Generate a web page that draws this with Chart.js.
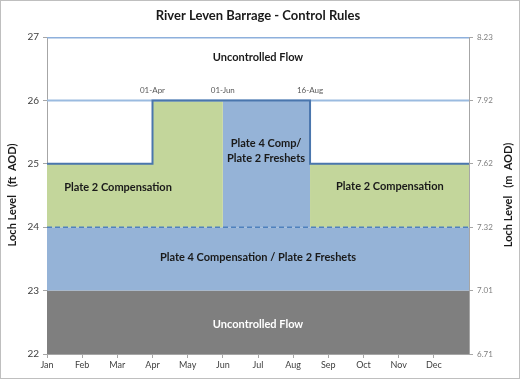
<!DOCTYPE html>
<html><head><meta charset="utf-8">
<script src="https://cdn.jsdelivr.net/npm/chart.js@4"></script>
<style>html,body{margin:0;padding:0;background:#fff}#wrap{width:520px;height:379px;position:relative}</style>
</head><body><div id="wrap"><canvas id="c" width="520" height="379"></canvas></div>
<script>
// x in months from 1 Jan (0 = 1 Jan, 12 = end of Dec)
const monthNames = ["Jan","Feb","Mar","Apr","May","Jun","Jul","Aug","Sep","Oct","Nov","Dec"];
const monthStarts = [0,1,2,3,4,5,6,7,8,9,10,11];
const yearEnd = 12;
const apr1 = 3, jun1 = 5, aug16 = 7.48;
const ftTicks = [22,23,24,25,26,27];
const mTickLabels = ["6.71","7.01","7.32","7.62","7.92","8.23"];
// Series (ft AOD)
const uncontrolledLow = [23,23];            // at [0, yearEnd]
const plate4Band = [24,24];                 // at [0, yearEnd]
const greenX = [0,apr1,apr1,jun1,jun1,aug16,aug16,yearEnd];
const greenY = [25,25,26,26,24,24,25,25];
const blueX = [jun1,aug16];
const blueY = [26,26];
const ruleX = [0,apr1,apr1,aug16,aug16,yearEnd];
const ruleY = [25,25,26,26,25,25];
const level26 = [26,26];
const level27 = [27,27];
const dateMarks = [["01-Apr",apr1],["01-Jun",jun1],["16-Aug",aug16]];
const regionLabels = [
  {t:["Uncontrolled Flow"], x:6.0, y:26.68, c:"#1a1a1a"},
  {t:["Plate 2 Compensation"], x:2.02, y:24.62, c:"#1a1a1a"},
  {t:["Plate 4 Comp/","Plate 2 Freshets"], x:6.23, y:25.21, c:"#1a1a1a"},
  {t:["Plate 2 Compensation"], x:9.75, y:24.64, c:"#1a1a1a"},
  {t:["Plate 4 Compensation / Plate 2 Freshets"], x:6.0, y:23.53, c:"#1a1a1a"},
  {t:["Uncontrolled Flow"], x:6.0, y:22.47, c:"#ffffff"}
];
const pts = (xs, ys) => xs.map((x,i)=>({x:x,y:ys[i]}));
const ends = ys => pts([0,yearEnd], ys);

const FONT = "Lato, 'Open Sans', sans-serif";

const textPlugin = {
  id:'texts',
  beforeDraw(chart){
    const ctx = chart.ctx;
    ctx.save();
    ctx.fillStyle = '#fff';
    ctx.fillRect(0,0,chart.width,chart.height);
    ctx.strokeStyle = '#bfbfbf';
    ctx.lineWidth = 1;
    ctx.strokeRect(0.5,0.5,chart.width-1,chart.height-1);
    ctx.restore();
  },
  afterDraw(chart){
    const ctx = chart.ctx, xs = chart.scales.x, ys = chart.scales.y;
    ctx.save();
    ctx.textAlign = 'center'; ctx.textBaseline = 'middle';
    ctx.fillStyle = '#1a1a1a';
    ctx.font = "bold 13px " + FONT;
    ctx.fillText("River Leven Barrage - Control Rules", 258, 16);
    ctx.font = "bold 11px " + FONT;
    ctx.save(); ctx.translate(12, 195); ctx.rotate(-Math.PI/2);
    ctx.fillText("Loch Level   (ft  AOD)", 0, 0); ctx.restore();
    ctx.save(); ctx.translate(508, 195); ctx.rotate(-Math.PI/2);
    ctx.fillText("Loch Level   (m  AOD)", 0, 0); ctx.restore();
    ctx.font = "bold 11px " + FONT;
    regionLabels.forEach(l=>{
      ctx.fillStyle = l.c;
      const cx = xs.getPixelForValue(l.x), cy = ys.getPixelForValue(l.y);
      const n = l.t.length;
      l.t.forEach((s,i)=>ctx.fillText(s, cx, cy + (i-(n-1)/2)*15));
    });
    ctx.font = "8px " + FONT;
    ctx.fillStyle = '#595959';
    dateMarks.forEach(d=>{
      ctx.fillText(d[0], xs.getPixelForValue(d[1]), ys.getPixelForValue(26)-10);
    });
    ctx.restore();
  }
};

new Chart(document.getElementById('c'), {
  type:'line',
  data:{datasets:[
    {data:ends(uncontrolledLow), fill:'start', backgroundColor:'#7f7f7f', borderWidth:0, pointRadius:0, order:10},
    {data:ends(plate4Band), fill:'-1', backgroundColor:'#95b3d7', borderWidth:0, pointRadius:0, order:9},
    {data:pts(greenX,greenY), fill:{value:24}, backgroundColor:'#c3d69b', borderWidth:0, pointRadius:0, order:8},
    {data:pts(blueX,blueY), fill:{value:24}, backgroundColor:'#95b3d7', borderWidth:0, pointRadius:0, order:7},
    {data:ends(level26), fill:false, borderColor:'#9bbbe0', borderWidth:2, pointRadius:0, order:6},
    {data:ends(level27), fill:false, borderColor:'#8eb0dc', borderWidth:3, pointRadius:0, order:5},
    {data:ends(plate4Band), fill:false, borderColor:'#4f81bd', borderWidth:1.5, borderDash:[5,3], pointRadius:0, order:4},
    {data:pts(ruleX,ruleY), fill:false, borderColor:'#4a76ad', borderWidth:2, pointRadius:0, order:3}
  ]},
  options:{
    responsive:false, animation:false, devicePixelRatio:1,
    layout:{padding:{left:4,right:4,top:37,bottom:4}},
    plugins:{legend:{display:false}, tooltip:{enabled:false}, title:{display:false}},
    elements:{line:{tension:0}},
    scales:{
      x:{type:'linear', min:0, max:yearEnd,
        afterBuildTicks(s){ s.ticks = monthStarts.map(v=>({value:v})); },
        ticks:{callback:(v)=>monthNames[monthStarts.indexOf(v)], color:'#404040', font:{size:9, family:FONT}, maxRotation:0, autoSkip:false, padding:2},
        grid:{drawOnChartArea:false, drawTicks:true, tickLength:4, color:'#a6a6a6'},
        border:{color:'#a6a6a6'},
        afterFit(s){ s.height = 21; }
      },
      y:{type:'linear', position:'left', min:22, max:27,
        afterBuildTicks(s){ s.ticks = ftTicks.map(v=>({value:v})); },
        ticks:{color:'#404040', font:{size:10, family:FONT}, padding:4},
        grid:{drawOnChartArea:false, drawTicks:true, tickLength:4, color:'#a6a6a6'},
        border:{color:'#a6a6a6'},
        afterFit(s){ s.width = 43; }
      },
      y2:{type:'linear', position:'right', min:22, max:27,
        afterBuildTicks(s){ s.ticks = ftTicks.map(v=>({value:v})); },
        ticks:{callback:(v)=>mTickLabels[ftTicks.indexOf(v)], color:'#7f7f7f', font:{size:8, family:FONT}, padding:4},
        grid:{drawOnChartArea:false, drawTicks:true, tickLength:4, color:'#a6a6a6'},
        border:{color:'#a6a6a6'},
        afterFit(s){ s.width = 47; }
      }
    }
  },
  plugins:[textPlugin]
});
</script></body></html>
